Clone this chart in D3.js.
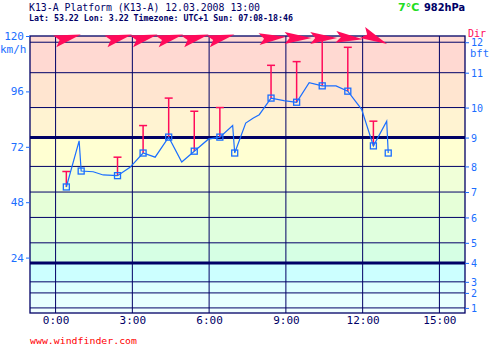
<!DOCTYPE html>
<html><head><meta charset="utf-8">
<script src="https://cdn.jsdelivr.net/npm/d3@7"></script>
<style>body{margin:0;background:#fff}svg{display:block}</style>
</head><body>
<svg id="c" width="495" height="348"></svg>
<script>
// ---- data ----
const lineHours = [0.42,0.92,1.0,1.47,1.86,2.42,2.91,3.42,3.89,4.42,4.93,5.42,5.97,6.42,6.92,7.0,7.43,7.73,7.96,8.42,8.92,9.42,9.91,10.42,10.96,11.42,11.96,12.42,12.94,13.0];
const lineKmh   = [54.6,74.6,61.5,61.2,59.8,59.5,63.1,69.3,67.5,76.2,65.4,70.1,75.3,76.2,81.2,69.3,82.3,84.5,85.9,93.1,92.0,91.3,99.8,98.4,98.4,96.1,88.2,72.4,83.1,69.3];
const markerHours = [0.42,1.0,2.42,3.42,4.42,5.42,6.42,7.0,8.42,9.42,10.42,11.42,12.42,13.0];
const markerKmh   = [54.6,61.5,59.5,69.3,76.2,70.1,76.2,69.3,93.1,91.3,98.4,96.1,72.4,69.3];
const gustHours = [0.42,2.42,3.42,4.42,5.42,6.42,8.42,9.42,10.42,11.42,12.42];
const gustBase  = [54.6,59.5,69.3,76.2,70.1,76.2,93.1,91.3,98.4,96.1,72.4];
const gustKmh   = [61.3,67.5,81.2,93.1,87.4,89.0,107.3,108.9,118.5,115.1,83.1];
const dirDeg    = [255,255,255,255,255,255,265,270,270,275,295];
const bftLevels = [1,2,3,4,5,6,7,8,9,10,11,12];
const bftKmh    = [2.2,8.7,13.5,21.7,30.4,41.4,52.4,63.5,76.0,89.0,104.1,117.3];
const bandColors = ["#f0ffff","#e8ffff","#ddffff","#ccffff","#d6ffe4","#e0ffde","#e6ffd8","#f0ffd8","#ffffd2","#fff3d2","#ffe5d0","#ffd9d2","#ffd9d2"];
const kmhTicks = [24,48,72,96,120];
const hourTicks = [0,3,6,9,12,15];
const hourLabels = ["0:00","3:00","6:00","9:00","12:00","15:00"];
const title = "K13-A Platform (K13-A) 12.03.2008 13:00";
const subtitle = "Lat: 53.22 Lon: 3.22 Timezone: UTC+1 Sun: 07:08-18:46";

// ---- scales ----
const svg = d3.select("#c");
const x = d3.scaleLinear().domain([-1,16]).range([30,465]);
const y = d3.scaleLinear().domain([0,120]).range([313,36]);
const navy = "#000066", blue = "#1a6eff", red = "#ff0a5a";
const mono = "'DejaVu Sans Mono', monospace";

// bands
const edges = [0, ...bftKmh, 120];
svg.append("g").selectAll("rect").data(d3.range(edges.length-1)).join("rect")
  .attr("x", x(-1)).attr("width", x(16)-x(-1))
  .attr("y", i => y(edges[i+1])).attr("height", i => y(edges[i]) - y(edges[i+1]))
  .attr("fill", i => bandColors[i]);

// vertical gridlines
svg.append("g").selectAll("line").data(hourTicks).join("line")
  .attr("x1", d => x(d)).attr("x2", d => x(d)).attr("y1", y(120)).attr("y2", y(0))
  .attr("stroke", navy).attr("stroke-width", 1);

// horizontal bft lines
svg.append("g").selectAll("line").data(bftLevels).join("line")
  .attr("x1", x(-1)).attr("x2", x(16))
  .attr("y1", (d,i) => y(bftKmh[i])).attr("y2", (d,i) => y(bftKmh[i]))
  .attr("stroke", navy).attr("stroke-width", d => (d===9||d===4) ? 3 : 1);

// frame
svg.append("rect").attr("x", x(-1)).attr("y", y(120)).attr("width", x(16)-x(-1)).attr("height", y(0)-y(120))
  .attr("fill","none").attr("stroke", navy).attr("stroke-width", 1.3);

// left axis
const la = svg.append("g").attr("transform", `translate(${x(-1)},0)`)
  .call(d3.axisLeft(y).tickValues(kmhTicks).tickSize(4).tickPadding(2));
la.select(".domain").remove();
la.selectAll("line").attr("stroke", blue);
la.selectAll("text").attr("fill", blue).attr("font-family", mono).attr("font-size", 11);
svg.append("text").attr("x", 0).attr("y", 53).attr("fill", blue).attr("font-family", mono).attr("font-size", 11).text("km/h");

// right bft axis
const yb = d3.scaleOrdinal().domain(bftLevels).range(bftKmh.map(v => y(v)));
const ra = svg.append("g").attr("transform", `translate(${x(16)},0)`)
  .call(d3.axisRight(yb).tickSize(4).tickPadding(2));
ra.select(".domain").remove();
ra.selectAll("line").attr("stroke", blue);
ra.selectAll("text").attr("fill", blue).attr("font-family", mono).attr("font-size", 10).attr("dy", "0.36em");
svg.append("text").attr("x", 470).attr("y", 57).attr("fill", blue).attr("font-family", mono).attr("font-size", 10.5).text("bft");
svg.append("text").attr("x", 468).attr("y", 37).attr("fill", red).attr("font-family", mono).attr("font-size", 10).text("Dir");

// bottom axis
const ba = svg.append("g").attr("transform", `translate(0,${y(0)})`)
  .call(d3.axisBottom(x).tickValues(hourTicks).tickFormat((d,i) => hourLabels[i]).tickSize(0).tickPadding(3));
ba.select(".domain").remove();
ba.selectAll("text").attr("fill", navy).attr("font-family", mono).attr("font-size", 11);

// gusts
const gg = svg.append("g").attr("stroke", red).attr("stroke-width", 1.5);
gustHours.forEach((h,i) => {
  gg.append("line").attr("x1", x(h)).attr("x2", x(h)).attr("y1", y(gustBase[i])).attr("y2", y(gustKmh[i]));
  gg.append("line").attr("x1", x(h)-4).attr("x2", x(h)+4).attr("y1", y(gustKmh[i])).attr("y2", y(gustKmh[i]));
});

// wind line
svg.append("path").datum(lineHours.map((h,i) => [h, lineKmh[i]]))
  .attr("d", d3.line().x(d => x(d[0])).y(d => y(d[1])))
  .attr("fill","none").attr("stroke", blue).attr("stroke-width", 1.2);

// markers
svg.append("g").selectAll("rect").data(markerHours).join("rect")
  .attr("x", d => x(d)-3).attr("y", (d,i) => y(markerKmh[i])-3).attr("width", 6).attr("height", 6)
  .attr("fill", "none").attr("stroke", blue).attr("stroke-width", 1.3);

// direction arrows
const arrowPts = [[14,0],[-13,-6],[-8,0],[-13,6]];
svg.append("g").selectAll("polygon").data(gustHours).join("polygon")
  .attr("points", arrowPts.map(p => p.join(",")).join(" "))
  .attr("transform", (d,i) => `translate(${x(d)+1},38) rotate(${dirDeg[i]-270})`)
  .attr("fill", red);

// header
svg.append("text").attr("x", 29).attr("y", 11).attr("fill", navy).attr("font-family", mono).attr("font-size", 10.5)
  .attr("textLength", 231).attr("lengthAdjust","spacingAndGlyphs").text(title);
svg.append("text").attr("x", 29).attr("y", 21).attr("fill", navy).attr("font-family", mono).attr("font-size", 8.5).attr("font-weight","bold")
  .attr("textLength", 264).attr("lengthAdjust","spacingAndGlyphs").text(subtitle);
svg.append("text").attr("x", 398).attr("y", 11).attr("fill", "#22dd22").attr("font-family", "'DejaVu Sans', sans-serif").attr("font-size", 11).attr("font-weight","bold").text("7°C");
svg.append("text").attr("x", 424).attr("y", 11).attr("fill", navy).attr("font-family", "'DejaVu Sans', sans-serif").attr("font-size", 11).attr("font-weight","bold")
  .attr("textLength", 41).attr("lengthAdjust","spacingAndGlyphs").text("982hPa");
svg.append("text").attr("x", 30).attr("y", 344).attr("fill", "#ff0000").attr("font-family", mono).attr("font-size", 9.5)
  .attr("textLength", 107).attr("lengthAdjust","spacingAndGlyphs").text("www.windfinder.com");
</script>
</body></html>
